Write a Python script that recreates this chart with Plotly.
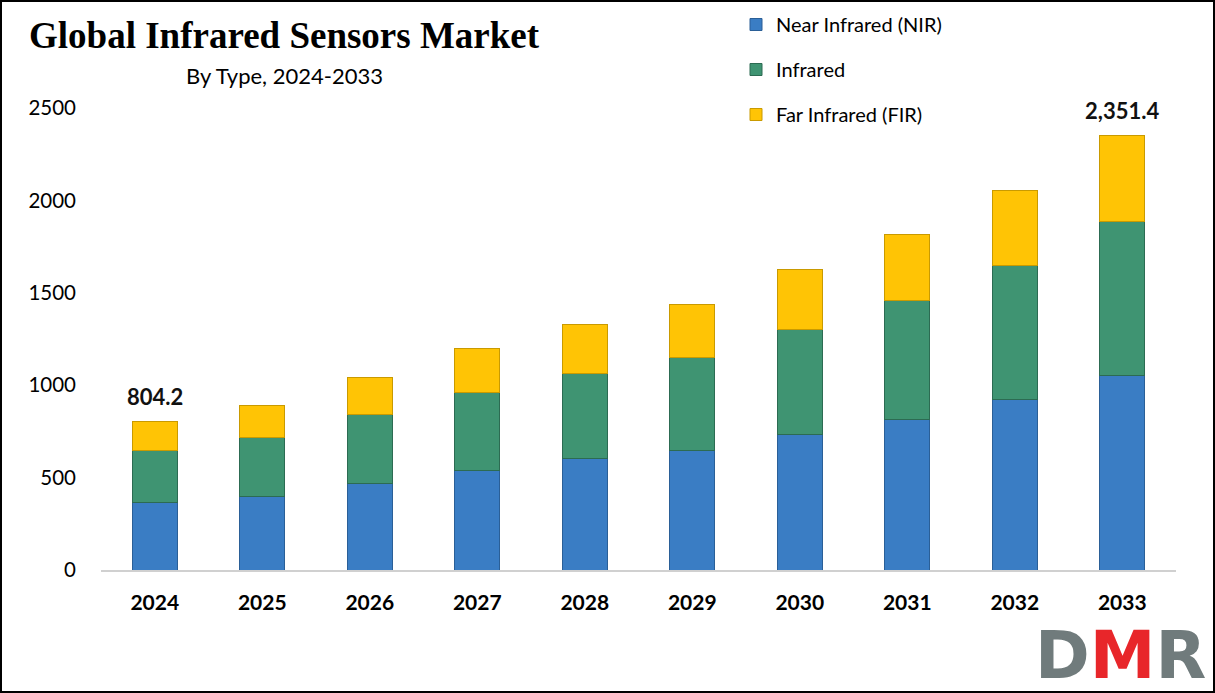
import plotly.graph_objects as go

years = ["2024", "2025", "2026", "2027", "2028", "2029", "2030", "2031", "2032", "2033"]
nir = [362.6, 400, 469, 541, 601, 644, 732, 812, 920, 1055]
infrared = [281.6, 318, 370, 417, 463, 507, 570, 644, 727, 830.4]
fir = [160.0, 171, 205, 238, 265, 287, 325, 357, 404, 466.0]
totals = [a + b + c for a, b, c in zip(nir, infrared, fir)]
label_years = ["2024", "2033"]
label_texts = ["804.2", "2,351.4"]

W, H = 1215, 693
ML, MR, MT, MB = 101, 39, 108, 123
PW, PH = W - ML - MR, H - MT - MB

fig = go.Figure()
series = [
    ("Near Infrared (NIR)", nir, "#3a7dc4", "#2a5f97"),
    ("Infrared", infrared, "#3f9472", "#2c6b52"),
    ("Far Infrared (FIR)", fir, "#ffc405", "#c99a00"),
]
for i, (name, vals, col, lc) in enumerate(series):
    fig.add_trace(go.Bar(
        x=years, y=vals, name=name, legendgroup=str(i),
        marker=dict(color=col, line=dict(color=lc, width=1)),
        width=0.42,
    ))

for yr, txt in zip(label_years, label_texts):
    idx = years.index(yr)
    fig.add_annotation(x=idx, y=totals[idx], text="<b>" + txt + "</b>",
                       showarrow=False, yanchor="bottom", yshift=9,
                       font=dict(family="Lato, Carlito, sans-serif", size=22, color="#111"))

fig.add_annotation(xref="paper", yref="paper", x=(284 - ML) / PW, y=(MT + PH - 36) / PH,
                   text="<b>Global Infrared Sensors Market</b>", showarrow=False,
                   xanchor="center", yanchor="middle",
                   font=dict(family="Liberation Serif, Times New Roman, serif", size=37, color="black"))
fig.add_annotation(xref="paper", yref="paper", x=(284 - ML) / PW, y=(MT + PH - 75) / PH,
                   text="By Type, 2024-2033", showarrow=False,
                   xanchor="center", yanchor="middle",
                   font=dict(family="Lato, sans-serif", size=22, color="black"))

# DMR logo text
fig.add_annotation(xref="paper", yref="paper", x=(1120 - ML) / PW, y=(MT + PH - 655) / PH,
                   text="<span style='color:#707b7c'>D</span><span style='color:#e8262a'>M</span><span style='color:#707b7c'>R</span>",
                   showarrow=False, xanchor="center", yanchor="middle",
                   font=dict(family="DejaVu Sans, sans-serif", size=66, weight="bold"))

# outer border
fig.add_shape(type="rect", xref="paper", yref="paper",
              x0=(1 - ML) / PW, x1=(W - 1 - ML) / PW,
              y0=(MT + PH - (H - 1)) / PH, y1=(MT + PH - 1) / PH,
              line=dict(color="black", width=2), fillcolor="rgba(0,0,0,0)", layer="above")

fig.update_layout(
    width=W, height=H,
    margin=dict(l=ML, r=MR, t=MT, b=MB, autoexpand=False),
    barmode="stack",
    plot_bgcolor="white", paper_bgcolor="white",
    showlegend=True,
    legend=dict(xref="container", yref="container", x=736 / W, y=1 - 5 / H,
                xanchor="left", yanchor="top",
                traceorder="grouped", tracegroupgap=16,
                font=dict(family="Lato, sans-serif", size=20, color="black"),
                bgcolor="rgba(0,0,0,0)", itemwidth=30),
    xaxis=dict(type="category", range=[-0.5, len(years) - 0.5], autorange=False,
               showline=True, linecolor="#d0d0d0", linewidth=1.5, ticks="",
               tickfont=dict(family="Lato, sans-serif", size=21, color="black", weight="bold"),
               showgrid=False, ticklabelstandoff=13),
    yaxis=dict(range=[0, 2500], tickvals=[0, 500, 1000, 1500, 2000, 2500],
               showgrid=False, zeroline=False, showline=False,
               tickfont=dict(family="Lato, sans-serif", size=20.5, color="black"),
               ticklabelstandoff=24),
)

fig.write_html("out.html")
